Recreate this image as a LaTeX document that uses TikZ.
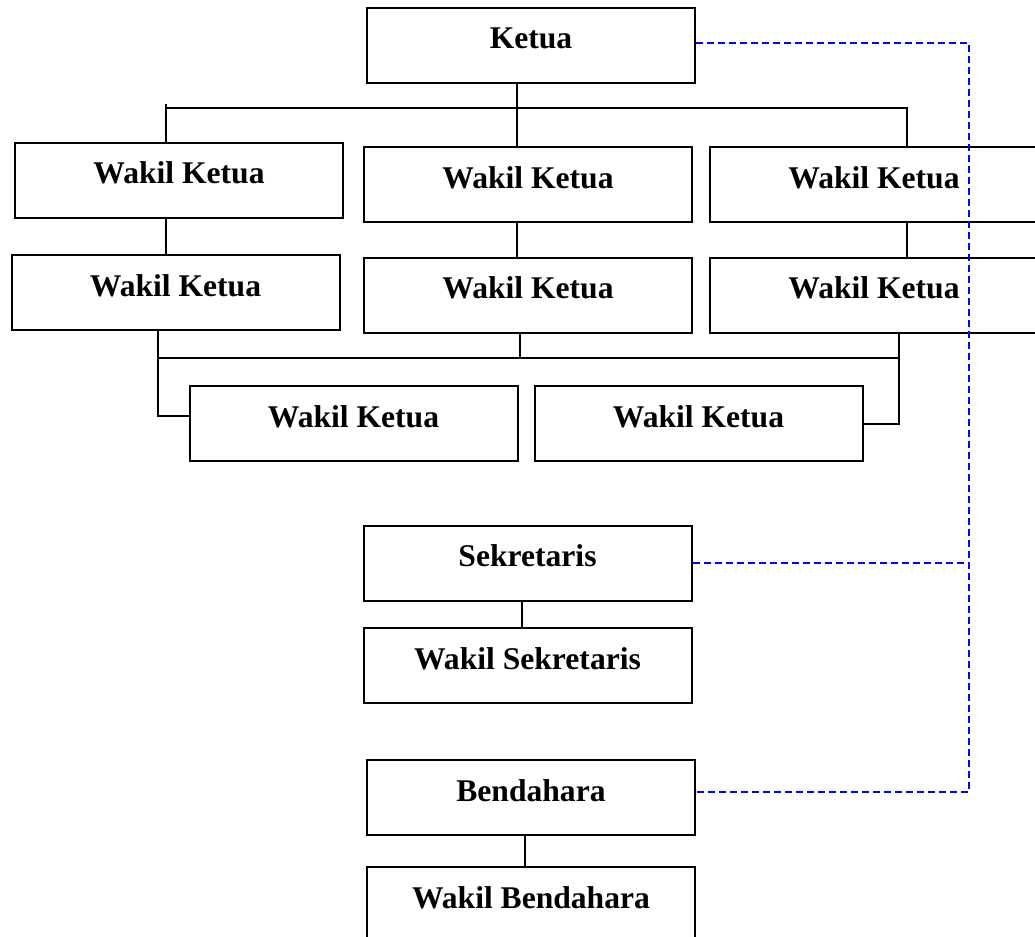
\documentclass[tikz,border=0pt]{standalone}
\usepackage{fontspec}
\setmainfont{Liberation Serif}
\usepackage{tikz}
\usetikzlibrary{calc}
\usepackage{xcolor}
\definecolor{rail}{RGB}{0,0,255}
\tikzset{
  post/.style={draw,line width=1pt,minimum width=164pt,inner sep=0pt,text height=20.5pt,text depth=17pt,font=\fontsize{15.8}{19}\selectfont\bfseries},
  link/.style={line width=0.9pt},
  staff/.style={draw=rail,line width=1pt,dash pattern=on 3.5pt off 2pt}
}
\begin{document}
\begin{tikzpicture}[x=0.5pt,y=-0.5pt]
        \useasboundingbox (0,0) rectangle (1035,937);
        \node[post] (ketua) at (531,45) {Ketua};
        \node[post] (wk1) at (179,180) {Wakil Ketua};
        \node[post] (wk2) at (528,184.5) {Wakil Ketua};
        \node[post] (wk3) at (874,184.5) {Wakil Ketua};
        \node[post] (wk4) at (175.5,292.5) {Wakil Ketua};
        \node[post] (wk5) at (528,295) {Wakil Ketua};
        \node[post] (wk6) at (874,295) {Wakil Ketua};
        \node[post] (wk7) at (353.5,423.5) {Wakil Ketua};
        \node[post] (wk8) at (698.5,423.5) {Wakil Ketua};
        \node[post] (sek) at (527.5,563) {Sekretaris};
        \node[post] (wsek) at (527.5,665.5) {Wakil Sekretaris};
        \node[post] (ben) at (531,797.5) {Bendahara};
        \node[post] (wben) at (531,904.5) {Wakil Bendahara};
        % junctions
        \coordinate (tl) at (166,104);
        \coordinate (tm) at (517,108);
        \coordinate (tr) at (907,108);
        \coordinate (bl) at (158,358);
        \coordinate (bm) at (520,358);
        \coordinate (br) at (899,358);
        \coordinate (l3) at (158,416);
        \coordinate (r3) at (899,424);
        \coordinate (rail) at (969,43);
        % upper tree
        \draw[link] (ketua.south -| tm) -- (wk2.north -| tm);
        \draw[link] (tl) -- (wk1.north -| tl);
        \draw[link] (tl |- tm) -- (tr) -- (wk3.north -| tr);
        \draw[link] (wk1.south -| tl) -- (wk4.north -| tl);
        \draw[link] (wk2.south -| tm) -- (wk5.north -| tm);
        \draw[link] (wk3.south -| tr) -- (wk6.north -| tr);
        % lower bus
        \draw[link] (bl) -- (br);
        \draw[link] (wk4.south -| bl) -- (l3) -- (l3 -| wk7.west);
        \draw[link] (wk5.south -| bm) -- (bm);
        \draw[link] (wk6.south -| br) -- (r3) -- (r3 -| wk8.east);
        \draw[link] ([xshift=-2.75pt]sek.south) -- ([xshift=-2.75pt]wsek.north);
        \draw[link] ([xshift=-3pt]ben.south) -- ([xshift=-3pt]wben.north);
        % dashed lines
        \draw[staff] ([yshift=1pt]ketua.east) -- ([yshift=1pt]ketua.east -| rail) -- ([yshift=2.75pt]rail |- ben.east) -- ([yshift=2.75pt]ben.east);
        \draw[staff] (sek.east) -- (sek.east -| rail);
\end{tikzpicture}
\end{document}
